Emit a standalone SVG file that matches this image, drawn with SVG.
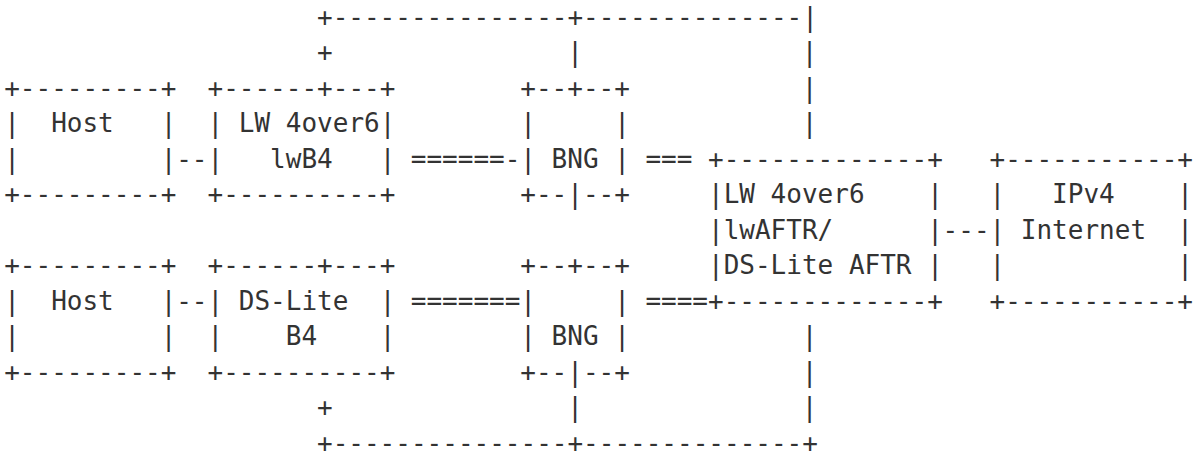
<svg xmlns="http://www.w3.org/2000/svg" width="1194" height="455" viewBox="0 0 1194 455" xml:space="preserve">
<style>
text { font-family: "DejaVu Sans Mono", "Liberation Mono", monospace; font-size: 26px; fill: #333333; white-space: pre; }
</style>
<rect x="0" y="0" width="1194" height="455" fill="#ffffff"/>
<g id="host1">
<text x="4.2" y="96.6">+---------+</text>
<text x="4.2" y="132.1">|  Host   |</text>
<text x="4.2" y="167.6">|         |</text>
<text x="4.2" y="203.2">+---------+</text>
</g>
<g id="lwb4">
<text x="207.5" y="96.6">+------+---+</text>
<text x="207.5" y="132.1">| LW 4over6|</text>
<text x="207.5" y="167.6">|   lwB4   |</text>
<text x="207.5" y="203.2">+----------+</text>
</g>
<g id="bng1">
<text x="520.3" y="96.6">+--+--+</text>
<text x="520.3" y="132.1">|     |</text>
<text x="520.3" y="167.6">| BNG |</text>
<text x="520.3" y="203.2">+--|--+</text>
</g>
<g id="aftr">
<text x="708" y="167.6">+-------------+</text>
<text x="708" y="203.2">|LW 4over6    |</text>
<text x="708" y="238.7">|lwAFTR/      |</text>
<text x="708" y="274.2">|DS-Lite AFTR |</text>
<text x="708" y="309.7">+-------------+</text>
</g>
<g id="internet">
<text x="989.5" y="167.6">+-----------+</text>
<text x="989.5" y="203.2">|   IPv4    |</text>
<text x="989.5" y="238.7">| Internet  |</text>
<text x="989.5" y="274.2">|           |</text>
<text x="989.5" y="309.7">+-----------+</text>
</g>
<g id="host2">
<text x="4.2" y="274.2">+---------+</text>
<text x="4.2" y="309.7">|  Host   |</text>
<text x="4.2" y="345.3">|         |</text>
<text x="4.2" y="380.8">+---------+</text>
</g>
<g id="dslite">
<text x="207.5" y="274.2">+------+---+</text>
<text x="207.5" y="309.7">| DS-Lite  |</text>
<text x="207.5" y="345.3">|    B4    |</text>
<text x="207.5" y="380.8">+----------+</text>
</g>
<g id="bng2">
<text x="520.3" y="274.2">+--+--+</text>
<text x="520.3" y="309.7">|     |</text>
<text x="520.3" y="345.3">| BNG |</text>
<text x="520.3" y="380.8">+--|--+</text>
</g>
<g id="connectors">
<text x="317" y="25.5">+---------------+--------------|</text>
<text x="317" y="61">+</text>
<text x="567.2" y="61">|</text>
<text x="801.8" y="61">|</text>
<text x="801.8" y="96.6">|</text>
<text x="801.8" y="132.1">|</text>
<text x="176.2" y="167.6">--</text>
<text x="410.8" y="167.6">======-</text>
<text x="645.4" y="167.6">===</text>
<text x="942.6" y="238.7">---</text>
<text x="176.2" y="309.7">--</text>
<text x="410.8" y="309.7">=======</text>
<text x="645.4" y="309.7">====</text>
<text x="801.8" y="345.3">|</text>
<text x="801.8" y="380.8">|</text>
<text x="317" y="416.3">+</text>
<text x="567.2" y="416.3">|</text>
<text x="801.8" y="416.3">|</text>
<text x="317" y="451.8">+---------------+--------------+</text>
</g>
</svg>
